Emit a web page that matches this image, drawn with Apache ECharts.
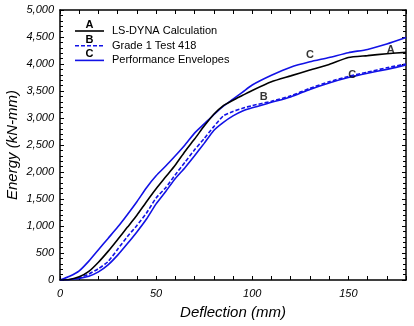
<!DOCTYPE html>
<html>
<head>
<meta charset="utf-8">
<script src="https://cdn.jsdelivr.net/npm/echarts@6/dist/echarts.min.js"></script>
<style>
  html, body { margin: 0; padding: 0; background: #fff; }
  #chart { width: 414px; height: 326px; }
</style>
</head>
<body>
<div id="chart"></div>
<script>
// Deflection stations (mm) shared by every curve
const deflection = [0, 5, 10, 15, 20, 25, 30, 35, 40, 45, 50, 55, 60, 65, 70, 75, 80, 85, 90, 95, 100, 110, 120, 130, 140, 150, 160, 170, 180];

// Energy (kN-mm) at each station
const lsDyna      = [0, 10, 60, 160, 330, 530, 750, 975, 1200, 1450, 1690, 1910, 2130, 2380, 2610, 2850, 3070, 3230, 3330, 3420, 3510, 3670, 3780, 3890, 3990, 4120, 4155, 4190, 4216];
const test418     = [0, 10, 40, 110, 210, 340, 570, 800, 1010, 1240, 1520, 1710, 1950, 2180, 2410, 2620, 2840, 3040, 3120, 3180, 3230, 3310, 3410, 3550, 3670, 3770, 3850, 3930, 4000];
const envelopeHi  = [0, 70, 170, 350, 560, 770, 980, 1210, 1450, 1710, 1930, 2110, 2300, 2500, 2720, 2890, 3060, 3220, 3350, 3480, 3610, 3790, 3940, 4040, 4120, 4210, 4270, 4370, 4490];
const envelopeLo  = [0, 10, 30, 70, 150, 280, 460, 670, 890, 1130, 1410, 1640, 1880, 2080, 2300, 2530, 2770, 2920, 3040, 3130, 3190, 3290, 3390, 3530, 3650, 3750, 3830, 3900, 3980];

// Axis ranges and ticks
const xRange = [0, 180], xStep = 10, xLabelStep = 50;
const yRange = [0, 5000], yStep = 500;
const yTitle = 'Energy (kN-mm)';

// Curve identification letters: [letter, deflection, energy]
const curveTags = [
  ['C', 130, 4167],
  ['A', 172, 4259],
  ['B', 106, 3383],
  ['C', 152, 3796]
];

// Legend rows
const legendRows = [
  { tag: 'A', text: 'LS-DYNA Calculation', color: '#000000', dash: false },
  { tag: 'B', text: 'Grade 1 Test 418', color: '#1212e6', dash: true },
  { tag: 'C', text: 'Performance Envelopes', color: '#1212e6', dash: false }
];

const BLUE = '#1212e6';
const FONT = 'Liberation Sans, Arial, sans-serif';

const pairs = ys => deflection.map((x, i) => [x, ys[i]]);

function lineSeries(name, ys, color, dashed, z) {
  return {
    type: 'line', name, data: pairs(ys), showSymbol: false, smooth: 0.2, z,
    lineStyle: { color, width: 1.6, type: dashed ? [4, 2] : 'solid' },
    silent: true, animation: false
  };
}

const tagSeries = {
  type: 'scatter', data: curveTags.map(t => ({ value: [t[1], t[2]], tag: t[0] })),
  symbolSize: 0, z: 10, animation: false, silent: true,
  label: {
    show: true, position: 'inside', formatter: p => p.data.tag,
    color: '#000', fontFamily: FONT, fontSize: 11, fontWeight: 'bold'
  }
};

const axisCommon = {
  axisLine: { show: true, onZero: false, lineStyle: { color: '#000', width: 1.5 } },
  axisTick: { show: true, inside: true, length: 4, lineStyle: { color: '#000', width: 1 } },
  splitLine: { show: false }
};

const graphics = [];
legendRows.forEach((r, i) => {
  const yLine = 31 + i * 14.7;
  graphics.push({
    type: 'line', shape: { x1: 75, y1: yLine, x2: 104, y2: yLine },
    style: { stroke: r.color, lineWidth: 1.6, lineDash: r.dash ? [4, 2] : null }
  });
  graphics.push({
    type: 'text', x: 89.5, y: yLine - 0.5,
    style: { text: r.tag, fill: '#000', font: 'bold 11px ' + FONT, textAlign: 'center', textVerticalAlign: 'bottom' }
  });
  graphics.push({
    type: 'text', x: 112, y: yLine,
    style: { text: r.text, fill: '#000', font: '11px ' + FONT, textAlign: 'left', textVerticalAlign: 'middle' }
  });
});
// Vertical title of the energy axis
graphics.push({
  type: 'text', x: 13, y: 145, rotation: Math.PI / 2,
  style: { text: yTitle, fill: '#000', font: 'italic 15px ' + FONT, textAlign: 'center', textVerticalAlign: 'middle' }
});

const chart = echarts.init(document.getElementById('chart'), null, { renderer: 'canvas' });
chart.setOption({
  animation: false,
  backgroundColor: '#fff',
  grid: { left: 60, right: 8, top: 10, bottom: 46, containLabel: false, outerBoundsMode: 'none' },
  xAxis: [
    Object.assign({}, axisCommon, {
      type: 'value', min: xRange[0], max: xRange[1], interval: xStep, position: 'bottom',
      name: 'Deflection (mm)', nameLocation: 'middle', nameGap: 25,
      nameTextStyle: { fontFamily: FONT, fontStyle: 'italic', fontSize: 15, color: '#000' },
      axisLabel: {
        fontFamily: FONT, fontStyle: 'italic', fontSize: 11, color: '#000', margin: 8,
        formatter: v => (v % xLabelStep === 0 ? String(v) : '')
      }
    }),
    Object.assign({}, axisCommon, {
      type: 'value', min: xRange[0], max: xRange[1], interval: xStep, position: 'top',
      axisLabel: { show: false }
    })
  ],
  yAxis: [
    Object.assign({}, axisCommon, {
      type: 'value', min: yRange[0], max: yRange[1], interval: yStep, position: 'left',
      minorTick: { show: true, splitNumber: 5, length: 3, lineStyle: { color: '#000', width: 1 } },
      axisLabel: {
        fontFamily: FONT, fontStyle: 'italic', fontSize: 11, color: '#000', margin: 6,
        formatter: v => v.toLocaleString('en-US')
      }
    }),
    Object.assign({}, axisCommon, {
      type: 'value', min: yRange[0], max: yRange[1], interval: yStep, position: 'right',
      minorTick: { show: true, splitNumber: 5, length: 3, lineStyle: { color: '#000', width: 1 } },
      axisLabel: { show: false }
    })
  ],
  graphic: graphics,
  series: [
    lineSeries('Performance Envelopes', envelopeHi, BLUE, false, 3),
    lineSeries('Performance Envelopes', envelopeLo, BLUE, false, 3),
    lineSeries('Grade 1 Test 418', test418, BLUE, true, 4),
    lineSeries('LS-DYNA Calculation', lsDyna, '#000000', false, 5),
    tagSeries
  ]
});
</script>
</body>
</html>
